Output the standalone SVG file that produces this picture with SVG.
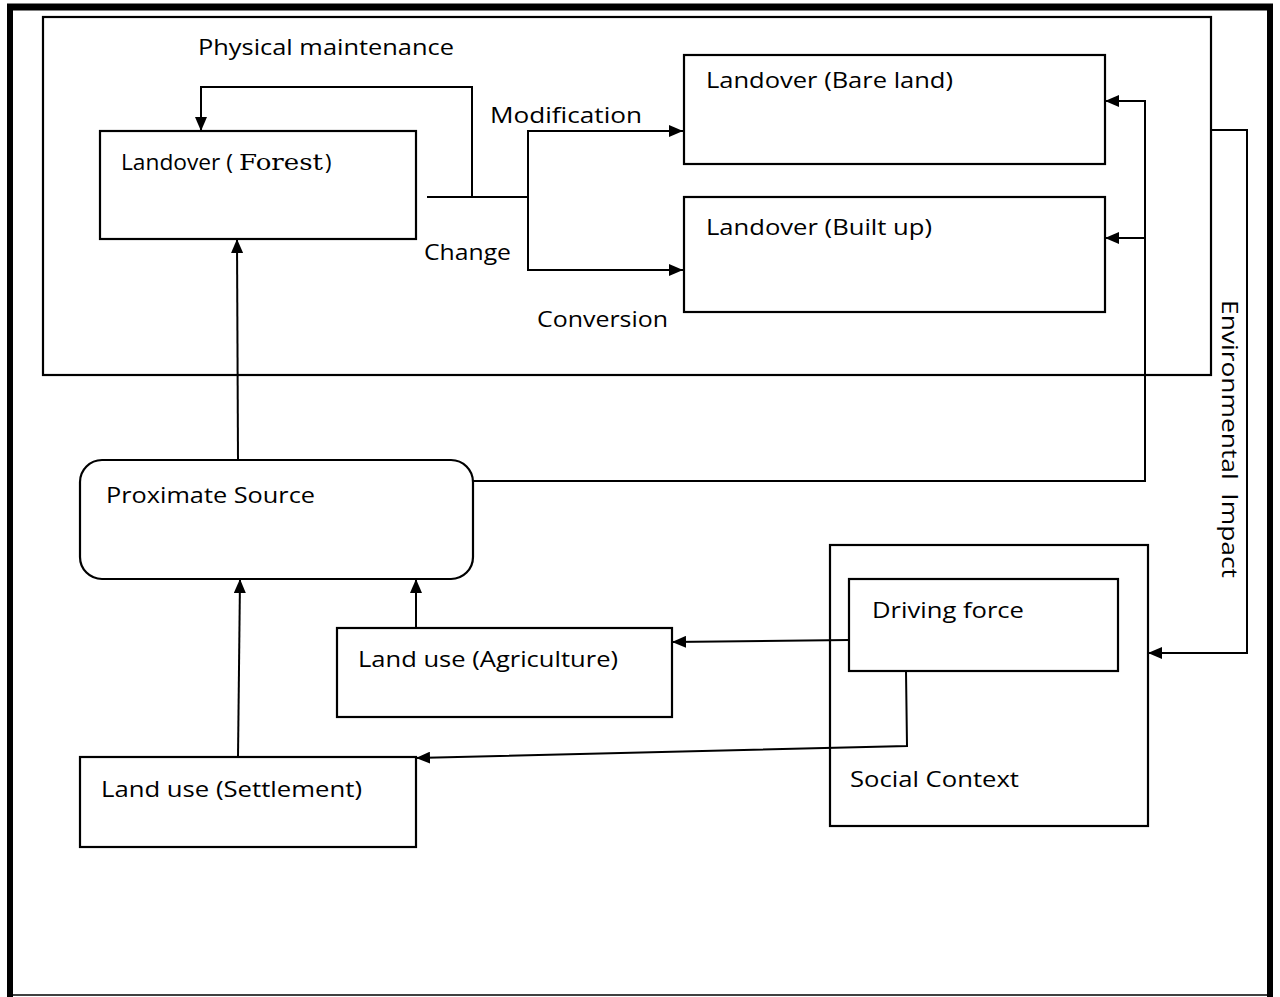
<svg xmlns="http://www.w3.org/2000/svg" width="1280" height="997" viewBox="0 0 1280 997">
<defs>
<marker id="ah" viewBox="0 0 14 12" refX="14" refY="6" markerWidth="14" markerHeight="12" markerUnits="userSpaceOnUse" orient="auto">
<path d="M0,0 L14,6 L0,12 z" fill="#000"/>
</marker>
<style>
.box{fill:#fff;stroke:#000;stroke-width:2.2}
.frame{fill:none;stroke:#000;stroke-width:2.2}
.ln{fill:none;stroke:#000;stroke-width:2}
.arr{fill:none;stroke:#000;stroke-width:2;marker-end:url(#ah)}
text{font-family:"Open Sans","Liberation Sans",sans-serif;font-size:22px;fill:#000}
.serif{font-family:"DejaVu Serif","Liberation Serif",serif;font-size:23px}
</style>
</defs>
<rect width="1280" height="997" fill="#fff"/>
<g id="page-border">
<line x1="7" y1="7" x2="1273" y2="7" stroke="#000" stroke-width="7"/>
<line x1="10" y1="4" x2="10" y2="997" stroke="#000" stroke-width="6"/>
<line x1="1270" y1="4" x2="1270" y2="997" stroke="#000" stroke-width="6"/>
<line x1="7" y1="995" x2="1273" y2="995" stroke="#000" stroke-width="1.5"/>
</g>
<g id="landcover-frame">
<rect class="frame" x="43" y="17" width="1168" height="358"/>
</g>
<g id="connectors">
<path class="arr" d="M472,197 V87 H201 V131"/>
<path class="ln" d="M427,197 H528"/>
<path class="arr" d="M528,197 V131 H683"/>
<path class="arr" d="M528,197 V270 H683"/>
<path class="arr" d="M238,460 L237,239"/>
<path class="arr" d="M238,757 L240,579"/>
<path class="arr" d="M416,628 V579"/>
<path class="arr" d="M460,481 H1145 V101 H1105"/>
<path class="arr" d="M1145,238 H1105"/>
<path class="arr" d="M1211,130 H1247 V653 H1148"/>
<path class="arr" d="M849,640 L672,642"/>
<path class="arr" d="M906,671 L907,746 L416,758"/>
</g>
<g id="forest">
<rect class="box" x="100" y="131" width="316" height="108"/>
<text x="121" y="170" textLength="112" lengthAdjust="spacingAndGlyphs">Landover (</text>
<text class="serif" x="239" y="170" textLength="84" lengthAdjust="spacingAndGlyphs">Forest</text>
<text x="325" y="170">)</text>
</g>
<g id="bare-land">
<rect class="box" x="684" y="55" width="421" height="109"/>
<text x="706" y="88" textLength="247" lengthAdjust="spacingAndGlyphs">Landover (Bare land)</text>
</g>
<g id="built-up">
<rect class="box" x="684" y="197" width="421" height="115"/>
<text x="706" y="235" textLength="226" lengthAdjust="spacingAndGlyphs">Landover (Built up)</text>
</g>
<g id="proximate-source">
<rect class="box" x="80" y="460" width="393" height="119" rx="22" ry="22"/>
<text x="106" y="503" textLength="209" lengthAdjust="spacingAndGlyphs">Proximate Source</text>
</g>
<g id="agriculture">
<rect class="box" x="337" y="628" width="335" height="89"/>
<text x="358" y="667" textLength="260" lengthAdjust="spacingAndGlyphs">Land use (Agriculture)</text>
</g>
<g id="settlement">
<rect class="box" x="80" y="757" width="336" height="90"/>
<text x="101" y="797" textLength="261" lengthAdjust="spacingAndGlyphs">Land use (Settlement)</text>
</g>
<g id="social-context">
<rect class="frame" x="830" y="545" width="318" height="281"/>
<text x="850" y="787" textLength="169" lengthAdjust="spacingAndGlyphs">Social Context</text>
</g>
<g id="driving-force">
<rect class="box" x="849" y="579" width="269" height="92"/>
<text x="872" y="618" textLength="152" lengthAdjust="spacingAndGlyphs">Driving force</text>
</g>
<g id="labels">
<text x="198" y="55" textLength="256" lengthAdjust="spacingAndGlyphs">Physical maintenance</text>
<text x="490" y="123" textLength="152" lengthAdjust="spacingAndGlyphs">Modification</text>
<text x="424" y="260" textLength="87" lengthAdjust="spacingAndGlyphs">Change</text>
<text x="537" y="327" textLength="131" lengthAdjust="spacingAndGlyphs">Conversion</text>
<text xml:space="preserve" transform="translate(1222,300) rotate(90)" textLength="278" lengthAdjust="spacingAndGlyphs">Environmental  Impact</text>
</g>
</svg>
